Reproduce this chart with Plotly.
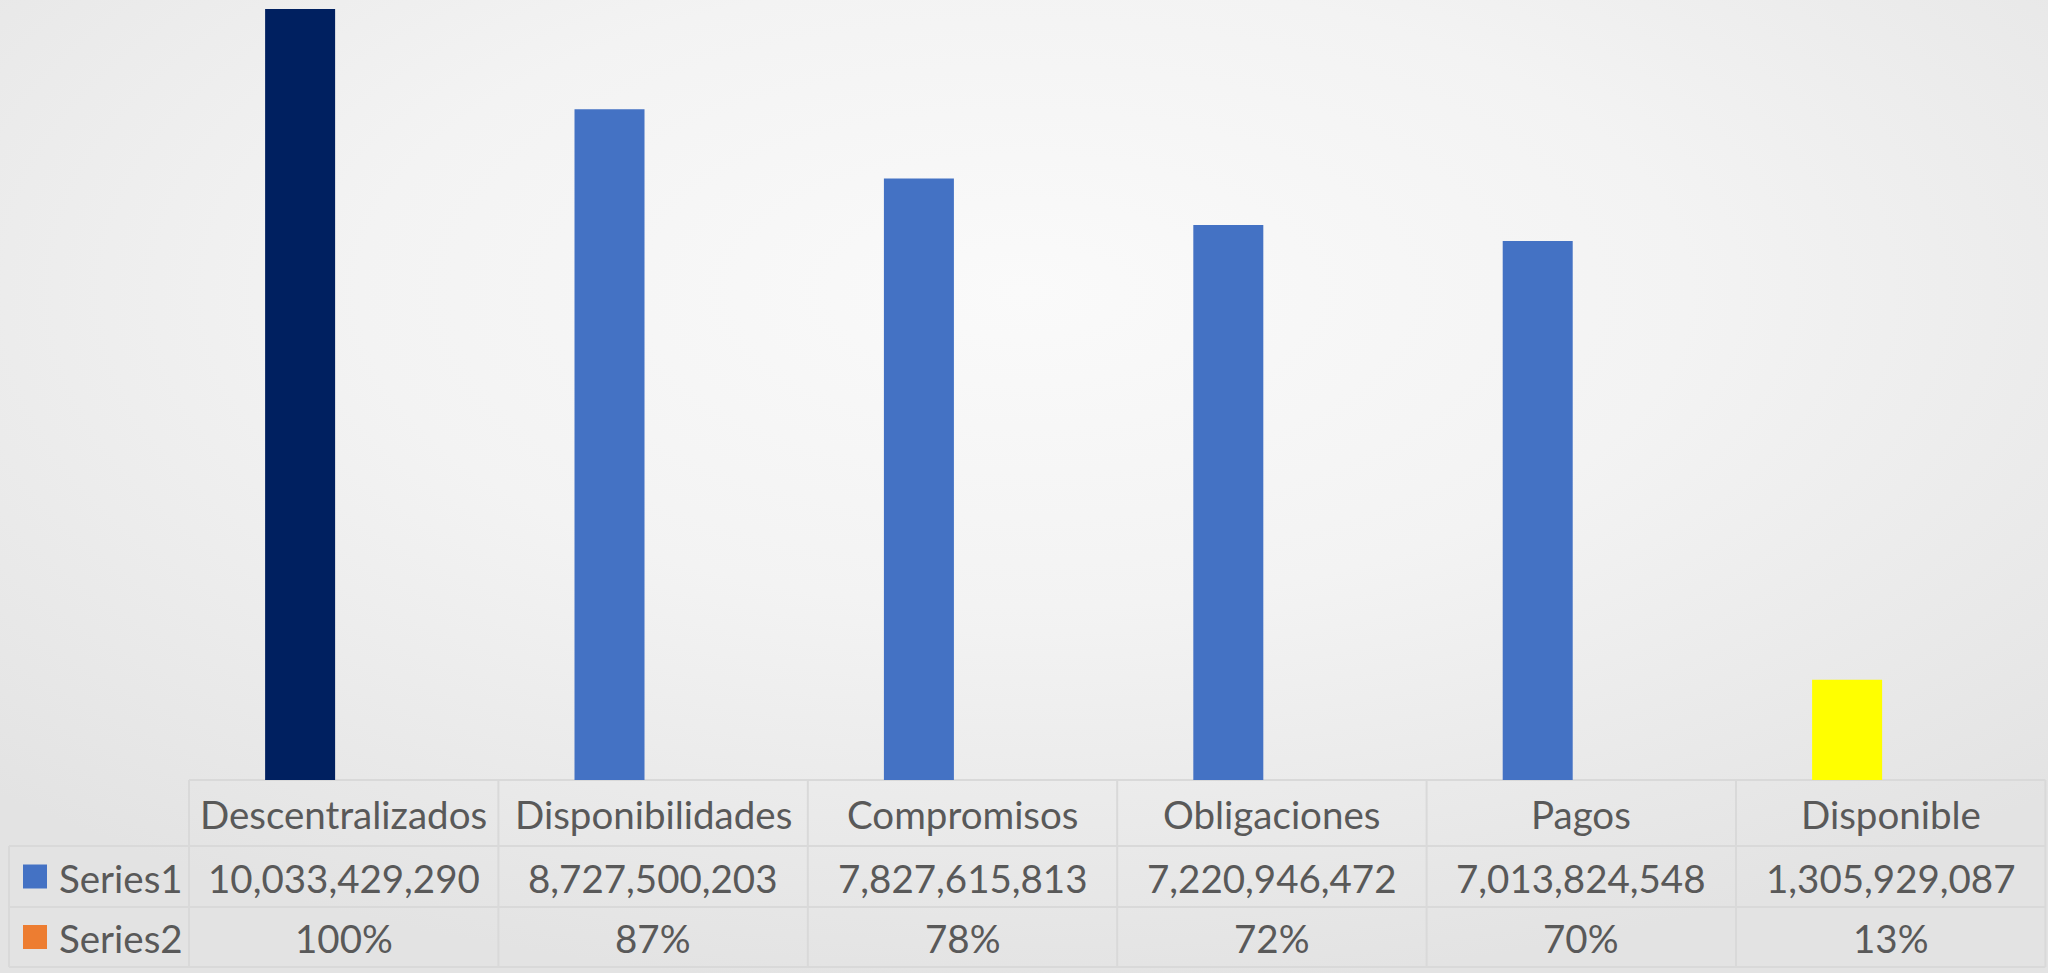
import urllib.parse
import plotly.graph_objects as go

# ---------------- data ----------------
categories = ["Descentralizados", "Disponibilidades", "Compromisos", "Obligaciones", "Pagos", "Disponible"]
series1_name = "Series1"
series2_name = "Series2"
series1_values = [10033429290, 8727500203, 7827615813, 7220946472, 7013824548, 1305929087]
series2_values = [1.00, 0.87, 0.78, 0.72, 0.70, 0.13]
series1_labels = ["10,033,429,290", "8,727,500,203", "7,827,615,813", "7,220,946,472", "7,013,824,548", "1,305,929,087"]
series2_labels = ["100%", "87%", "78%", "72%", "70%", "13%"]

# ---------------- style ----------------
W, H = 2048, 973
bar_colors = ["#002060", "#4472C4", "#4472C4", "#4472C4", "#4472C4", "#FFFF00"]
series1_color = "#4472C4"
series2_color = "#ED7D31"
text_color = "#595959"
grid_color = "#D9D9D9"
FONT = "Lato"
FS = 38.5

# pixel layout (figure pixels, top-left origin)
cat_left_px = 189.0
cat_w_px = 309.4
baseline_px = 780.0
row_lines_px = [780, 846, 907, 967]
legend_left_px = 9.0


def py(p):
    return (H - p) / H


def px_to_x(p):
    return (p - (cat_left_px + cat_w_px / 2)) / cat_w_px


xs = list(range(len(categories)))
x0 = px_to_x(0)
x1 = px_to_x(W)

fig = go.Figure()
fig.add_trace(go.Bar(
    x=xs, y=series1_values, name=series1_name,
    marker=dict(color=bar_colors, line=dict(width=0)),
    width=70 / cat_w_px, offset=-0.254, showlegend=False, hoverinfo="skip",
))
fig.add_trace(go.Bar(
    x=xs, y=series2_values, name=series2_name,
    marker=dict(color=series2_color, line=dict(width=0)),
    width=70 / cat_w_px, offset=0.028, showlegend=False, hoverinfo="skip",
))

ymax = series1_values[0] * (baseline_px - 0) / (baseline_px - 9)

# background radial gradient
svg = ("<svg xmlns='http://www.w3.org/2000/svg' width='2048' height='973' preserveAspectRatio='none'>"
       "<defs><radialGradient id='g' cx='0.5' cy='0.3' r='0.72'>"
       "<stop offset='0' stop-color='#FAFAFA'/><stop offset='0.45' stop-color='#F3F3F3'/>"
       "<stop offset='1' stop-color='#E3E3E3'/></radialGradient></defs>"
       "<rect x='0' y='0' width='2048' height='973' fill='url(#g)'/></svg>")
src = "data:image/svg+xml;charset=utf-8," + urllib.parse.quote(svg)

shapes = []
line = dict(color=grid_color, width=2)
# table top border (only over category columns)
shapes.append(dict(type="line", xref="x", yref="paper", x0=-0.5, x1=len(categories) - 0.5,
                   y0=py(row_lines_px[0]), y1=py(row_lines_px[0]), line=line, layer="below"))
for yl in row_lines_px[1:]:
    shapes.append(dict(type="line", xref="x", yref="paper", x0=px_to_x(legend_left_px), x1=len(categories) - 0.5,
                       y0=py(yl), y1=py(yl), line=line, layer="below"))
for i in range(len(categories) + 1):
    shapes.append(dict(type="line", xref="x", yref="paper", x0=i - 0.5, x1=i - 0.5,
                       y0=py(row_lines_px[0]), y1=py(row_lines_px[-1]), line=line, layer="below"))
shapes.append(dict(type="line", xref="x", yref="paper", x0=px_to_x(legend_left_px), x1=px_to_x(legend_left_px),
                   y0=py(row_lines_px[1]), y1=py(row_lines_px[-1]), line=line, layer="below"))

annotations = []
row_centers = [(row_lines_px[k] + row_lines_px[k + 1]) / 2 for k in range(3)]
rows = [categories, series1_labels, series2_labels]
for r, labels in enumerate(rows):
    for i, t in enumerate(labels):
        annotations.append(dict(text=t, xref="x", yref="paper", x=i, y=py(row_centers[r] + 1),
                                xanchor="center", yanchor="middle", showarrow=False,
                                font=dict(family=FONT, size=FS, color=text_color)))

# legend keys in first column
for r, (nm, col) in enumerate([(series1_name, series1_color), (series2_name, series2_color)], start=1):
    cy = row_centers[r]
    shapes.append(dict(type="rect", xref="paper", yref="paper",
                       x0=23 / W, x1=47 / W, y0=py(cy + 12), y1=py(cy - 12),
                       fillcolor=col, line=dict(width=0)))
    annotations.append(dict(text=nm, xref="paper", yref="paper", x=57 / W, y=py(cy + 1),
                            xanchor="left", yanchor="middle", showarrow=False,
                            font=dict(family=FONT, size=FS, color=text_color)))

fig.update_layout(
    width=W, height=H,
    margin=dict(l=0, r=0, t=0, b=0, pad=0),
    paper_bgcolor="#EEEEEE",
    plot_bgcolor="rgba(0,0,0,0)",
    barmode="group",
    showlegend=False,
    xaxis=dict(range=[x0, x1], domain=[0, 1], visible=False, fixedrange=True),
    yaxis=dict(range=[0, ymax], domain=[py(baseline_px), 1], visible=False, fixedrange=True),
    images=[dict(source=src, xref="paper", yref="paper", x=0, y=1, sizex=1, sizey=1,
                 xanchor="left", yanchor="top", sizing="stretch", layer="below")],
    shapes=shapes,
    annotations=annotations,
    font=dict(family=FONT, color=text_color),
)

fig.write_html(
    "out.html",
    config=dict(displayModeBar=False),
    post_script="document.body.style.margin='0';document.body.style.overflow='hidden';"
                "document.documentElement.style.overflow='hidden';",
)
